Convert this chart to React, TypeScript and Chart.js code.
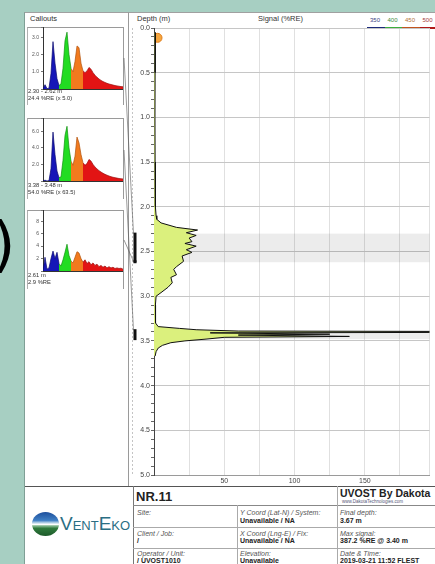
import React, { useEffect, useRef } from 'react';
import { Chart, registerables } from 'chart.js';

Chart.register(...registerables);

const FONT = '"Liberation Sans", Arial, Helvetica, sans-serif';

// ---------- main UVOST log: depth (m) vs signal (%RE)
const depthM = [0.05, 0.5, 1.0, 1.5, 2.0, 2.10, 2.14, 2.18, 2.23, 2.26, 2.29, 2.32, 2.35, 2.39, 2.41, 2.44, 2.48, 2.51, 2.55, 2.61, 2.67, 2.70, 2.76, 2.79, 2.85, 2.90, 2.96, 3.00, 3.10, 3.20, 3.30, 3.34, 3.36, 3.375, 3.39, 3.40, 3.41, 3.425, 3.435, 3.45, 3.46, 3.48, 3.50, 3.52, 3.55, 3.58, 3.62, 3.67];
const signalRE = [1.0, 0.8, 0.7, 0.8, 1.0, 1.5, 2, 5, 16, 31, 23, 30, 25, 27, 22, 30, 23, 27, 20, 21, 16, 14, 16, 12, 13, 10, 5, 1.5, 1, 1, 1.2, 3, 18, 30, 60, 387.2, 40, 125, 60, 139, 50, 37, 22, 12, 6, 3, 1.5, 0.8];
const startDepth = [0.11];
const startSignal = [2.5];
const signalMin = 0;
const signalMax = 196;
const signalStep = 25;
const signalLabelStep = 50;
const depthMin = 0;
const depthMax = 5;
const depthMinorStep = 0.1;
const depthMajorStep = 0.5;

// ---------- callouts
const calloutFrom = [2.30, 3.38, 2.61];
const calloutTo = [2.62, 3.48, 2.61];
const calloutRange = ['2.30 - 2.62 m', '3.38 - 3.48 m', '2.61 m'];
const calloutSignal = ['24.4 %RE (x 5.0)', '54.0 %RE (x 63.5)', '2.9 %RE'];
const waveC1 = [0, 0.25, 0.02, 0.05, 0.9, 2.75, 1.5, 0.6, 0.2, 0.3, 1.2, 2.8, 3.3, 2.0, 1.2, 1.0, 1.6, 2.5, 2.4, 1.5, 1.05, 0.95, 1.05, 1.25, 1.15, 0.95, 0.8, 0.68, 0.58, 0.5, 0.43, 0.38, 0.33, 0.29, 0.26, 0.23, 0.2, 0.18, 0.16, 0.14, 0.13];
const waveC2 = [0, 0.1, 0, 0.05, 1.5, 5.9, 3.2, 1.2, 0.4, 0.5, 2.5, 5.5, 6.6, 4.0, 2.4, 1.9, 3.0, 5.3, 4.6, 3.2, 2.2, 1.9, 2.1, 2.6, 2.4, 2.0, 1.7, 1.45, 1.25, 1.08, 0.93, 0.8, 0.7, 0.6, 0.52, 0.45, 0.4, 0.35, 0.3, 0.27, 0.25];
const waveC3 = [0, 2.2, 0.3, 0.5, 2.0, 3.2, 2.0, 3.0, 1.2, 0.8, 1.8, 3.0, 4.3, 2.5, 1.6, 1.3, 2.2, 3.1, 2.9, 2.0, 1.4, 1.8, 1.2, 1.5, 1.0, 1.3, 0.9, 1.1, 0.7, 0.9, 0.6, 0.8, 0.5, 0.7, 0.5, 0.6, 0.4, 0.5, 0.4, 0.45, 0.3];
const waves = [waveC1, waveC2, waveC3];
const waveMax = [3.6, 7.6, 9.8];
const waveStep = [1, 2, 2];
const waveDecimals = [1, 1, 0];

// ---------- wavelength channels (nm)
const channelNames = ['350', '400', '450', '500'];
const channelStart = [0, 8, 14, 20];
const channelEnd = [8, 14, 20, 40];
const channelFill = ['#1616b8', '#22dc22', '#f27a1e', '#e21414'];
const channelLine = ['#0a0a70', '#119011', '#b0520c', '#9a0a0a'];
const channelText = ['#3b3f86', '#3c8a3c', '#b0703a', '#a53a3a'];
const channelBar = ['#1c2a7a', '#3cae3c', '#c2541e', '#b01818'];

// ---------- layout (page pixels)
const MAIN_LEFT = 123;
const MAIN_TOP = 12;
const MAIN_W = 312;
const MAIN_H = 474;
const calloutBoxTop = [27, 118, 210];
const calloutBase = [89, 181, 271];
const calloutLabelTop = [89, 182.5, 273];
const leaderStartY = [58, 150, 240];

const isMult = (v: number, s: number) => Math.abs(v / s - Math.round(v / s)) < 1e-6;

const depthPlugin = {
  id: 'depthDecor',
  beforeDatasetsDraw(chart: any) {
    const { ctx, chartArea: a } = chart;
    const y = chart.scales.y;
    ctx.save();
    ctx.fillStyle = 'rgba(0,0,0,0.075)';
    calloutFrom.forEach((d0, i) => {
      const d1 = calloutTo[i];
      if (d1 <= d0) return;
      const p0 = y.getPixelForValue(d0);
      const p1 = y.getPixelForValue(d1);
      ctx.fillRect(a.left, p0, a.right - a.left, p1 - p0);
    });
    ctx.restore();
  },
  afterDraw(chart: any) {
    const { ctx, chartArea: a } = chart;
    const y = chart.scales.y;
    const mx = y.left + 12;
    ctx.save();
    ctx.strokeStyle = '#b5b5b5';
    ctx.lineWidth = 0.8;
    ctx.setLineDash([2, 2]);
    ctx.beginPath();
    ctx.moveTo(mx - 2.5, a.top);
    ctx.lineTo(mx - 2.5, a.bottom);
    ctx.stroke();
    ctx.setLineDash([]);
    ctx.strokeStyle = '#555';
    ctx.lineWidth = 0.6;
    calloutFrom.forEach((d0, i) => {
      const p = y.getPixelForValue(d0);
      ctx.beginPath();
      ctx.moveTo(y.left + 1, leaderStartY[i] - MAIN_TOP);
      ctx.lineTo(mx - 1.5, p);
      ctx.stroke();
    });
    ctx.fillStyle = '#111';
    calloutFrom.forEach((d0, i) => {
      const p0 = y.getPixelForValue(d0);
      const p1 = y.getPixelForValue(calloutTo[i]);
      ctx.fillRect(mx - 1.5, Math.min(p0, p1) - 1, 3, Math.abs(p1 - p0) + 2);
    });
    ctx.restore();
  },
};

function mainConfig(): any {
  return {
    type: 'line',
    data: {
      datasets: [
        {
          label: 'Signal (%RE)',
          data: depthM.map((d, i) => ({ x: signalRE[i], y: d })),
          borderColor: '#111',
          borderWidth: 1,
          backgroundColor: '#dbf07d',
          fill: 'origin',
          pointRadius: 0,
          tension: 0,
        },
        {
          label: 'Start',
          data: startDepth.map((d, i) => ({ x: startSignal[i], y: d })),
          showLine: false,
          pointRadius: 4.5,
          pointBackgroundColor: '#f5a63f',
          pointBorderColor: '#e07e1c',
          pointBorderWidth: 1,
        },
      ],
    },
    options: {
      indexAxis: 'y',
      responsive: false,
      animation: false,
      layout: { padding: { top: 16, right: 0, bottom: 0, left: 0 } },
      plugins: { legend: { display: false }, tooltip: { enabled: false } },
      scales: {
        x: {
          type: 'linear',
          position: 'bottom',
          min: signalMin,
          max: signalMax,
          afterFit: (s: any) => { s.height = 11; s.paddingLeft = 0; s.paddingRight = 0; },
          ticks: {
            stepSize: signalStep,
            autoSkip: false,
            maxRotation: 0,
            padding: 2,
            color: '#444',
            font: { size: 7, family: FONT },
            callback: (v: number) => (v > 0 && isMult(v, signalLabelStep) ? String(v) : ''),
          },
          grid: { color: '#e0e0e0', drawTicks: false },
          border: { color: '#9a9a9a' },
        },
        y: {
          type: 'linear',
          reverse: true,
          min: depthMin,
          max: depthMax,
          afterFit: (s: any) => { s.width = 31; s.paddingTop = 0; s.paddingBottom = 0; },
          ticks: {
            stepSize: depthMinorStep,
            autoSkip: false,
            padding: 1,
            color: '#444',
            font: { size: 7, family: FONT },
            callback: (v: number) => (isMult(v, depthMajorStep) ? v.toFixed(1) : ''),
          },
          grid: {
            color: (c: any) => (c.tick && isMult(c.tick.value, depthMajorStep) ? '#c6c6c6' : 'rgba(0,0,0,0)'),
            tickColor: '#666',
            tickLength: 3,
          },
          border: { color: '#444', width: 1 },
        },
      },
    },
    plugins: [depthPlugin],
  };
}

function calloutConfig(k: number): any {
  const wave = waves[k];
  const datasets: any[] = channelNames.map((name, c) => ({
    label: name + ' nm',
    data: wave.map((v, i) => ({ x: i, y: i >= channelStart[c] && i <= channelEnd[c] ? v : null })),
    borderColor: channelLine[c],
    borderWidth: 0.7,
    backgroundColor: channelFill[c],
    fill: 'origin',
    pointRadius: 0,
    spanGaps: false,
  }));
  return {
    type: 'line',
    data: { datasets },
    options: {
      responsive: false,
      animation: false,
      layout: { padding: 0 },
      plugins: { legend: { display: false }, tooltip: { enabled: false } },
      scales: {
        x: {
          type: 'linear',
          min: 0,
          max: wave.length - 1,
          afterFit: (s: any) => { s.height = 1; s.paddingLeft = 0; s.paddingRight = 0; },
          ticks: { display: false },
          grid: { display: false },
          border: { color: '#333' },
        },
        y: {
          type: 'linear',
          min: 0,
          max: waveMax[k],
          afterFit: (s: any) => { s.width = 16; s.paddingTop = 0; s.paddingBottom = 0; },
          ticks: {
            stepSize: waveStep[k],
            autoSkip: false,
            padding: 2,
            color: '#555',
            font: { size: 5, family: FONT },
            callback: (v: number) => (v > 0 && isMult(v, waveStep[k]) ? v.toFixed(waveDecimals[k]) : ''),
          },
          grid: { drawOnChartArea: false, tickLength: 2, tickColor: '#777' },
          border: { color: '#333' },
        },
      },
    },
  };
}

const abs = (style: any): any => ({ position: 'absolute', whiteSpace: 'nowrap', lineHeight: 1, ...style });

export default function App() {
  const mainRef = useRef<HTMLCanvasElement>(null);
  const c0 = useRef<HTMLCanvasElement>(null);
  const c1 = useRef<HTMLCanvasElement>(null);
  const c2 = useRef<HTMLCanvasElement>(null);
  const calloutRefs = [c0, c1, c2];

  useEffect(() => {
    const charts: Chart[] = [];
    if (mainRef.current) charts.push(new Chart(mainRef.current, mainConfig()));
    calloutRefs.forEach((r, k) => {
      if (r.current) charts.push(new Chart(r.current, calloutConfig(k)));
    });
    return () => charts.forEach((c) => c.destroy());
  }, []);

  const label = { fontStyle: 'italic', color: '#555', fontSize: 7 };
  const value = { fontWeight: 'bold', color: '#222', fontSize: 7 };

  return (
    <div style={{ position: 'fixed', left: 0, top: 0, width: 435, height: 564, overflow: 'hidden', background: '#a7cfc2', fontFamily: FONT }}>
      <div style={abs({ left: -8, top: 214, fontSize: 60, lineHeight: '60px', fontFamily: '"DejaVu Sans", sans-serif', color: '#000' })}>)</div>
      <div style={abs({ left: 24, top: 12, width: 420, height: 560, background: '#fff', borderLeft: '1px solid #7f9f95', borderTop: '1px solid #a0a0a0' })} />

      {/* headers */}
      <div style={abs({ left: 30, top: 15, fontSize: 7.5, color: '#333' })}>Callouts</div>
      <div style={abs({ left: 137, top: 15, fontSize: 7.5, color: '#333' })}>Depth (m)</div>
      <div style={abs({ left: 258, top: 15, fontSize: 7.5, color: '#333' })}>Signal (%RE)</div>
      {channelNames.map((n, i) => (
        <div key={n} style={abs({ left: 370 + i * 17.5, top: 17, fontSize: 6, color: channelText[i] })}>{n}</div>
      ))}
      {channelBar.map((c, i) => (
        <div key={c} style={abs({ left: 367 + i * 17.5, top: 27, width: 17.5, height: 2, background: c })} />
      ))}

      {/* panel divider */}
      <div style={abs({ left: 128, top: 12, width: 1, height: 474, background: '#9a9a9a' })} />

      {/* callouts */}
      {calloutBoxTop.map((t, k) => (
        <div key={'box' + k} style={abs({ left: 27, top: t, width: 95, height: calloutLabelTop[k] + 15 - t, borderTop: '1px solid #9a9a9a', borderLeft: '1px solid #b0b0b0', borderRight: '1px solid #9a9a9a' })} />
      ))}
      {calloutBoxTop.map((t, k) => (
        <canvas key={'cv' + k} ref={calloutRefs[k]} width={96} height={calloutBase[k] - t + 1}
          style={{ position: 'absolute', left: 27, top: t, width: 96, height: calloutBase[k] - t + 1 }} />
      ))}
      {calloutRange.map((s, k) => (
        <div key={'lr' + k} style={abs({ left: 28, top: calloutLabelTop[k], fontSize: 5.8, color: '#333' })}>{s}</div>
      ))}
      {calloutSignal.map((s, k) => (
        <div key={'ls' + k} style={abs({ left: 28, top: calloutLabelTop[k] + 7, fontSize: 5.8, color: '#333' })}>{s}</div>
      ))}

      {/* main log */}
      <canvas ref={mainRef} width={MAIN_W} height={MAIN_H}
        style={{ position: 'absolute', left: MAIN_LEFT, top: MAIN_TOP, width: MAIN_W, height: MAIN_H }} />

      {/* footer table */}
      <div style={abs({ left: 25, top: 486, width: 410, height: 1, background: '#555' })} />
      <div style={abs({ left: 133, top: 486, width: 1, height: 78, background: '#777' })} />
      <div style={abs({ left: 133, top: 505, width: 302, height: 1, background: '#888' })} />
      <div style={abs({ left: 133, top: 527, width: 302, height: 1, background: '#aaa' })} />
      <div style={abs({ left: 133, top: 548, width: 302, height: 1, background: '#aaa' })} />
      <div style={abs({ left: 237, top: 505, width: 1, height: 59, background: '#aaa' })} />
      <div style={abs({ left: 337, top: 486, width: 1, height: 78, background: '#aaa' })} />

      <div style={abs({ left: 136, top: 490, fontSize: 13, fontWeight: 'bold', color: '#222' })}>NR.11</div>
      <div style={abs({ left: 340, top: 487.5, fontSize: 10.5, fontWeight: 'bold', color: '#222' })}>UVOST By Dakota</div>
      <div style={abs({ left: 342, top: 500, fontSize: 4.5, color: '#557' })}>www.DakotaTechnologies.com</div>

      <div style={abs({ left: 137, top: 508.5, ...label })}>Site:</div>
      <div style={abs({ left: 240, top: 508.5, ...label })}>Y Coord (Lat-N) / System:</div>
      <div style={abs({ left: 240, top: 517, ...value })}>Unavailable / NA</div>
      <div style={abs({ left: 340, top: 508.5, ...label })}>Final depth:</div>
      <div style={abs({ left: 340, top: 517, ...value })}>3.67 m</div>

      <div style={abs({ left: 137, top: 529.5, ...label })}>Client / Job:</div>
      <div style={abs({ left: 137, top: 537, ...value })}>/</div>
      <div style={abs({ left: 240, top: 529.5, ...label })}>X Coord (Lng-E) / Fix:</div>
      <div style={abs({ left: 240, top: 537, ...value })}>Unavailable / NA</div>
      <div style={abs({ left: 340, top: 529.5, ...label })}>Max signal:</div>
      <div style={abs({ left: 340, top: 537, ...value })}>387.2 %RE @ 3.40 m</div>

      <div style={abs({ left: 137, top: 550, ...label })}>Operator / Unit:</div>
      <div style={abs({ left: 137, top: 556.5, ...value })}>/ UVOST1010</div>
      <div style={abs({ left: 240, top: 550, ...label })}>Elevation:</div>
      <div style={abs({ left: 240, top: 556.5, ...value })}>Unavailable</div>
      <div style={abs({ left: 340, top: 550, ...label })}>Date &amp; Time:</div>
      <div style={abs({ left: 340, top: 556.5, ...value })}>2019-03-21 11:52 FLEST</div>

      {/* logo */}
      <div style={abs({ left: 32, top: 512, width: 27, height: 24, borderRadius: '50%', background: 'linear-gradient(180deg, #1d4f9c 0%, #3f7fc4 35%, #cfe2ee 47%, #ffffff 52%, #8fc09a 57%, #2f7a3c 68%, #1d5a2a 100%)' })} />
      <div style={abs({ left: 60, top: 514, fontSize: 19, fontVariant: 'small-caps', color: '#2a6e84', letterSpacing: 0 })}>VentEko</div>
    </div>
  );
}
